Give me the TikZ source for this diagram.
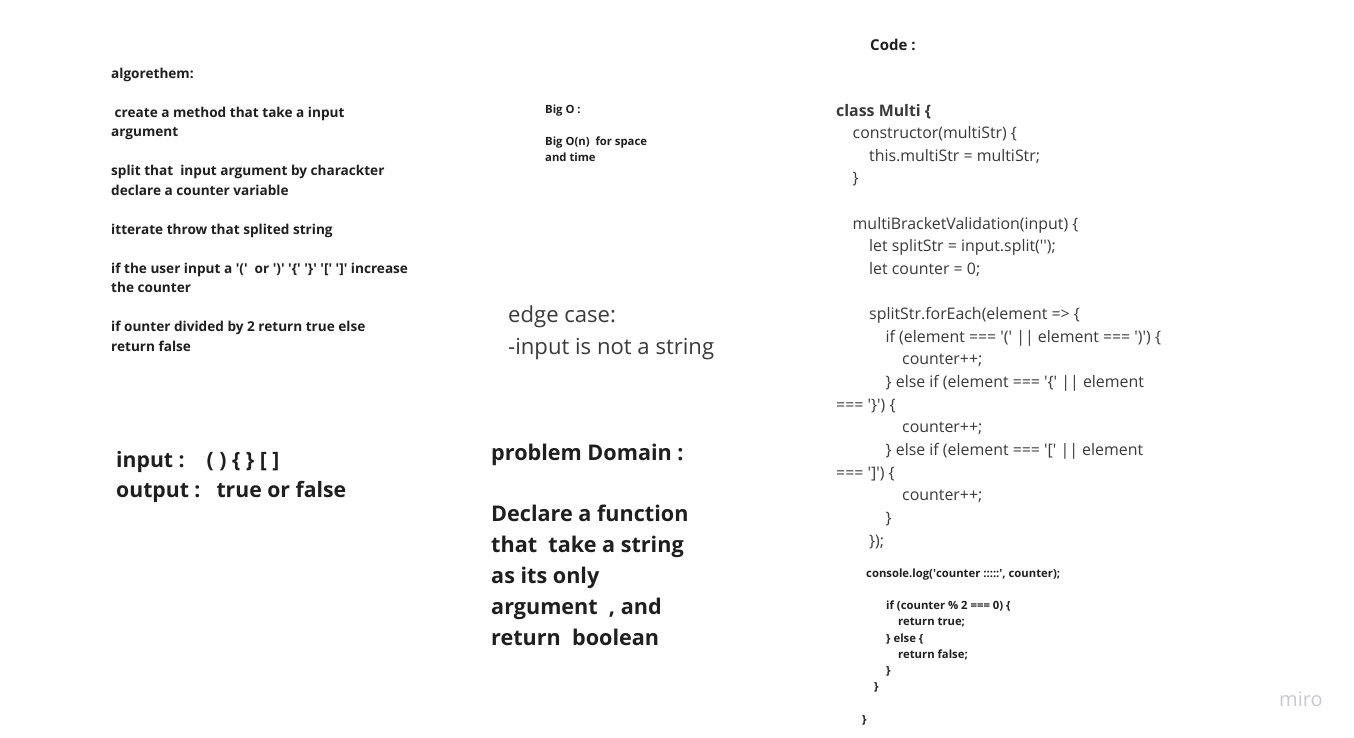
\documentclass[tikz,border=0pt]{standalone}
\usepackage{fontspec}
\setmainfont{Open Sans}
\definecolor{inkdark}{HTML}{1F1F1F}
\definecolor{inkcode}{HTML}{3A3A3A}
\definecolor{miroGray}{HTML}{C9C9CF}
\newcommand{\ind}[1]{\hspace*{#1\dimexpr16.5pt\relax}}
\newcommand{\q}{\textquotesingle}
\begin{document}
\begin{tikzpicture}[x=1pt,y=-1pt,
  txt/.style={anchor=base west,inner sep=0pt,align=left,text=inkdark},
  note/.style={txt,font=\fontsize{13.6}{19.5}\selectfont\bfseries},
  tiny/.style={txt,font=\fontsize{11.3}{16.2}\selectfont\bfseries},
  code/.style={txt,text=inkcode,font=\fontsize{15.9}{22.63}\selectfont},
  head/.style={txt,font=\fontsize{21.2}{30}\selectfont\bfseries},
  big/.style={txt,font=\fontsize{21.6}{30.8}\selectfont\bfseries}]

\useasboundingbox[fill=white] (0,0) rectangle (1354,738);

% algorithm notes (anchored on the last line)
\node[note] (alg) at (111,351) {algorethem:\\[19.5pt]
 \ create a method that take a input\\argument\\[19.5pt]
split that\ \ input argument by charackter\\declare a counter variable\\[19.5pt]
itterate throw that splited string\\[19.5pt]
if the user input a \q(\q\ \ or \q)\q\ \q\{\q\ \q\}\q\ \q[\q\ \q]\q\ increase\\the counter\\[19.5pt]
if ounter divided by 2 return true else\\return false};

% big o
\node[tiny] (bigo) at (545,162) {Big O :\\[16.2pt]
Big O(n)\ \ for space\\and time};

% edge case
\node[txt,text=inkcode,font=\fontsize{22.1}{32}\selectfont] (edge) at (508,354)
  {edge case:\\-input is not a string};

% input and output
\node[head] (io) at (116,497) {input :\hspace{22pt}( ) \{ \} [ ]\\output :\hspace{16pt}true or false};

% problem domain
\node[big] (dom) at (491,645) {problem Domain :\\[30.8pt]
Declare a function\\that\ \ take a string\\as its only\\argument\ \ , and\\return\ \ boolean};

% code
\node[txt,font=\fontsize{15}{20}\selectfont\bfseries] (codehead) at (870,51) {Code :};
\node[code] (cls) at (836,546) {\textbf{class Multi \{}\\
\ind{1}constructor(multiStr) \{\\
\ind{2}this.multiStr = multiStr;\\
\ind{1}\}\\[22.63pt]
\ind{1}multiBracketValidation(input) \{\\
\ind{2}let splitStr = input.split(\q\q);\\
\ind{2}let counter = 0;\\[22.63pt]
\ind{2}splitStr.forEach(element => \{\\
\ind{3}if (element === \q(\q\ || element === \q)\q) \{\\
\ind{4}counter++;\\
\ind{3}\} else if (element === \q\{\q\ || element\\
=== \q\}\q) \{\\
\ind{4}counter++;\\
\ind{3}\} else if (element === \q[\q\ || element\\
=== \q]\q) \{\\
\ind{4}counter++;\\
\ind{3}\}\\
\ind{2}\});};
\node[tiny] (log) at (866,723) {console.log(\q counter :::::\q, counter);\\[16.2pt]
\hspace*{20pt}if (counter \% 2 === 0) \{\\
\hspace*{32pt}return true;\\
\hspace*{20pt}\} else \{\\
\hspace*{32pt}return false;\\
\hspace*{20pt}\}\\
\hspace*{8pt}\}\\[16.2pt]
\hspace*{-4pt}\}};

% logo
\node[txt,text=miroGray,font=\fontsize{20}{24}\selectfont] (logo) at (1279,706) {miro};

\end{tikzpicture}
\end{document}
